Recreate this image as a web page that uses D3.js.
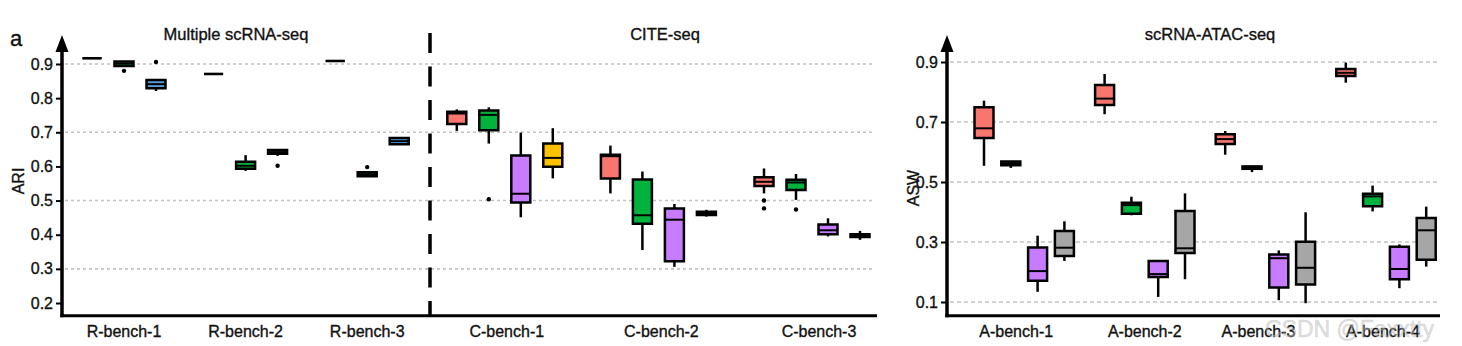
<!DOCTYPE html>
<html>
<head>
<meta charset="utf-8">
<script src="https://cdn.jsdelivr.net/npm/d3@7"></script>
<style>
  body { margin: 0; background: #fff; }
  svg { display: block; font-family: 'Liberation Sans', Arial, Helvetica, sans-serif; }
  .lbl { fill: #111; stroke: #111; stroke-width: 0.35px; }
</style>
</head>
<body>
<svg id="chart" width="1462" height="346"></svg>
<script>
// ---- data (box stats are [min, q1, median, q3, max]) ----
const rnaGroups = ['R-bench-1', 'R-bench-2', 'R-bench-3'];
const citeGroups = ['C-bench-1', 'C-bench-2', 'C-bench-3'];
const atacGroups = ['A-bench-1', 'A-bench-2', 'A-bench-3', 'A-bench-4'];

const rnaColors = ['#F8766D', '#00B33C', '#5A9BD8'];
const citeColors = ['#F8766D', '#00B33C', '#C77CFF', '#FFC000'];
const atacColors = ['#F8766D', '#00B33C', '#C77CFF', '#A6A6A6'];

const rnaStats = [
  [[0.917, 0.917, 0.917, 0.917, 0.917], [0.894, 0.894, 0.901, 0.907, 0.907], [0.821, 0.829, 0.841, 0.853, 0.853]],
  [[0.871, 0.871, 0.871, 0.871, 0.871], [0.587, 0.593, 0.602, 0.614, 0.633], [0.631, 0.637, 0.642, 0.648, 0.648]],
  [[0.909, 0.909, 0.909, 0.909, 0.909], [0.571, 0.571, 0.577, 0.583, 0.583], [0.665, 0.665, 0.674, 0.683, 0.683]]
];
const rnaOutliers = [[[], [0.880], [0.906]], [[], [], [0.602]], [[], [0.598], []]];

const citeStats = [
  [[0.704, 0.724, 0.755, 0.760, 0.767], [0.667, 0.706, 0.751, 0.764, 0.773], [0.451, 0.494, 0.520, 0.632, 0.699], [0.565, 0.599, 0.625, 0.667, 0.712]],
  [[0.521, 0.565, 0.630, 0.634, 0.661], [0.355, 0.432, 0.457, 0.562, 0.585], [0.306, 0.322, 0.444, 0.477, 0.490], [0.453, 0.458, 0.462, 0.467, 0.473]],
  [[0.521, 0.543, 0.555, 0.568, 0.594], [0.502, 0.531, 0.553, 0.561, 0.578], [0.395, 0.401, 0.413, 0.430, 0.448], [0.385, 0.393, 0.397, 0.401, 0.411]]
];
const citeOutliers = [[[], [0.504], [], []], [[], [], [], []], [[0.500, 0.477], [0.474], [], []]];

const atacStats = [
  [[0.554, 0.647, 0.679, 0.749, 0.771], [0.547, 0.556, 0.562, 0.568, 0.568], [0.134, 0.171, 0.203, 0.282, 0.321], [0.237, 0.253, 0.281, 0.337, 0.369]],
  [[0.726, 0.757, 0.778, 0.823, 0.860], [0.389, 0.394, 0.423, 0.431, 0.451], [0.117, 0.183, 0.193, 0.237, 0.237], [0.176, 0.263, 0.279, 0.403, 0.462]],
  [[0.591, 0.627, 0.643, 0.659, 0.670], [0.533, 0.544, 0.548, 0.552, 0.552], [0.106, 0.148, 0.246, 0.258, 0.272], [0.096, 0.158, 0.214, 0.301, 0.399]],
  [[0.831, 0.853, 0.864, 0.877, 0.898], [0.402, 0.419, 0.452, 0.461, 0.488], [0.146, 0.176, 0.210, 0.284, 0.292], [0.218, 0.241, 0.339, 0.380, 0.418]]
];
const atacOutliers = [[[], [], [], []], [[], [], [], []], [[], [], [], []], [[], [], [], []]];

const ariTicks = [0.2, 0.3, 0.4, 0.5, 0.6, 0.7, 0.8, 0.9];
const ariGrid = [0.3, 0.5, 0.7, 0.9];
const aswTicks = [0.1, 0.3, 0.5, 0.7, 0.9];

// ---- layout ----
const svg = d3.select('#chart');
const fmt = d3.format('.1f');

// slot positions: one unit per box, extra gap between benchmarks
function slotCenters(sizes, gap) {
  let s = 0;
  return sizes.map(n => {
    const c = d3.range(n).map(i => s + i);
    s += n + gap;
    return c;
  });
}

const leftCenters = slotCenters([3, 3, 3, 4, 4, 4], 0.8);
const rightCenters = slotCenters([4, 4, 4, 4], 0.5);

const xL = d3.scaleLinear().domain([0, 24]).range([92, 860]);
const yL = d3.scaleLinear().domain([0.2, 0.9]).range([303, 64]);
const xR = d3.scaleLinear().domain([0, 16.5]).range([984, 1426.2]);
const yR = d3.scaleLinear().domain([0.1, 0.9]).range([302, 62]);

function flatten(stats, outl, colors, centers, offset) {
  const out = [];
  stats.forEach((grp, gi) => grp.forEach((s, mi) => {
    out.push({ s, o: outl[gi][mi], color: colors[mi], slot: centers[gi + offset][mi] });
  }));
  return out;
}

function drawPanel(opt) {
  const g = svg.append('g');
  const { x, y, x0, x1, yBottom, ticks, grid, gridDash } = opt;

  // grid
  g.append('g').selectAll('line')
    .data(grid)
    .join('line')
    .attr('x1', x0 + 3).attr('x2', opt.gridEnd)
    .attr('y1', d => y(d)).attr('y2', d => y(d))
    .attr('stroke', '#c2c2c2')
    .attr('stroke-width', 1.6)
    .attr('stroke-dasharray', gridDash);

  // y axis ticks / labels
  const ax = g.append('g')
    .attr('transform', `translate(${x0},0)`)
    .call(d3.axisLeft(y).tickValues(ticks).tickFormat(fmt).tickSize(6).tickPadding(3));
  ax.select('.domain').remove();
  ax.selectAll('.tick line').attr('stroke', '#000').attr('stroke-width', 2);
  ax.selectAll('.tick text')
    .attr('class', 'lbl')
    .style('font-size', '16px')
    .style('font-family', "'Liberation Sans', Arial, sans-serif");

  // boxes
  const boxes = g.append('g').selectAll('g')
    .data(opt.boxes)
    .join('g');

  boxes.append('line')
    .attr('x1', d => x(d.slot)).attr('x2', d => x(d.slot))
    .attr('y1', d => y(d.s[4])).attr('y2', d => y(d.s[0]))
    .attr('stroke', '#000').attr('stroke-width', 2.5);

  boxes.append('path')
    .attr('d', d => {
      const cx = x(d.slot), h = opt.bw / 2;
      return `M${cx - h},${y(d.s[3])}H${cx + h}V${y(d.s[1])}H${cx - h}Z`;
    })
    .attr('fill', d => d.color)
    .attr('stroke', '#000')
    .attr('stroke-width', 2.5);

  boxes.append('line')
    .attr('x1', d => x(d.slot) - opt.bw / 2).attr('x2', d => x(d.slot) + opt.bw / 2)
    .attr('y1', d => y(d.s[2])).attr('y2', d => y(d.s[2]))
    .attr('stroke', '#000').attr('stroke-width', 2);

  boxes.selectAll('circle')
    .data(d => d.o.map(v => ({ v, slot: d.slot })))
    .join('circle')
    .attr('cx', d => x(d.slot))
    .attr('cy', d => y(d.v))
    .attr('r', 2.2)
    .attr('fill', '#000');

  // axes lines + arrow
  g.append('line')
    .attr('x1', x0).attr('x2', x0)
    .attr('y1', 50).attr('y2', yBottom + 1.5)
    .attr('stroke', '#000').attr('stroke-width', 3.5);
  g.append('path')
    .attr('d', `M${x0 - 6.5},52L${x0},35L${x0 + 6.5},52Z`)
    .attr('fill', '#000');
  g.append('line')
    .attr('x1', x0 - 1.75).attr('x2', x1)
    .attr('y1', yBottom).attr('y2', yBottom)
    .attr('stroke', '#000').attr('stroke-width', 3);

  // category labels
  g.append('g').selectAll('text')
    .data(opt.groups)
    .join('text')
    .attr('class', 'lbl')
    .attr('x', (d, i) => {
      const c = opt.centers[i];
      return (x(c[0]) + x(c[c.length - 1])) / 2 + (opt.labelShift ? opt.labelShift[i] : 0);
    })
    .attr('y', 337)
    .attr('text-anchor', 'middle')
    .style('font-size', '16px')
    .text(d => d);

  // y title
  g.append('text')
    .attr('class', 'lbl')
    .attr('transform', `translate(${opt.titleX},${opt.titleY}) rotate(-90)`)
    .attr('text-anchor', 'middle')
    .style('font-size', '16px')
    .text(opt.yTitle);

  return g;
}

const leftBoxes = flatten(rnaStats, rnaOutliers, rnaColors, leftCenters, 0)
  .concat(flatten(citeStats, citeOutliers, citeColors, leftCenters, 3));
const rightBoxes = flatten(atacStats, atacOutliers, atacColors, rightCenters, 0);

const left = drawPanel({
  x: xL, y: yL, x0: 62, x1: 877, yBottom: 315.7,
  ticks: ariTicks, grid: ariGrid, gridDash: '3,3', gridEnd: 872,
  boxes: leftBoxes, bw: 19,
  groups: rnaGroups.concat(citeGroups), centers: leftCenters,
  labelShift: [0, 0, 0, 2, 3, 7],
  yTitle: 'ARI', titleX: 24, titleY: 181
});

const right = drawPanel({
  x: xR, y: yR, x0: 947, x1: 1440, yBottom: 315.7,
  ticks: aswTicks, grid: aswTicks, gridDash: '4,3', gridEnd: 1439,
  boxes: rightBoxes, bw: 19,
  groups: atacGroups, centers: rightCenters,
  labelShift: [-8, 0, -7, -3],
  yTitle: 'ASW', titleX: 919, titleY: 188
});

// vertical divider between scRNA and CITE sections
left.append('line')
  .attr('x1', (xL(9.6) + xL(11.4)) / 2 + 2).attr('x2', (xL(9.6) + xL(11.4)) / 2 + 2)
  .attr('y1', 33).attr('y2', 316)
  .attr('stroke', '#000').attr('stroke-width', 3.5)
  .attr('stroke-dasharray', '20,13.5');

// section titles
const titles = [
  { t: 'Multiple scRNA-seq', x: 236 },
  { t: 'CITE-seq', x: 665 },
  { t: 'scRNA-ATAC-seq', x: 1210 }
];
svg.append('g').selectAll('text')
  .data(titles)
  .join('text')
  .attr('class', 'lbl')
  .attr('x', d => d.x)
  .attr('y', 40)
  .attr('text-anchor', 'middle')
  .style('font-size', '16.5px')
  .text(d => d.t);

svg.append('text')
  .attr('class', 'lbl')
  .attr('x', 10).attr('y', 46)
  .style('font-size', '22px')
  .text('a');

// watermark
svg.append('text')
  .attr('x', 1265).attr('y', 337)
  .style('font-size', '23px')
  .attr('fill', 'rgba(190,190,190,0.45)')
  .attr('stroke', 'rgba(160,160,160,0.35)')
  .attr('stroke-width', 0.6)
  .text('CSDN @Faxxtty');
</script>
</body>
</html>
